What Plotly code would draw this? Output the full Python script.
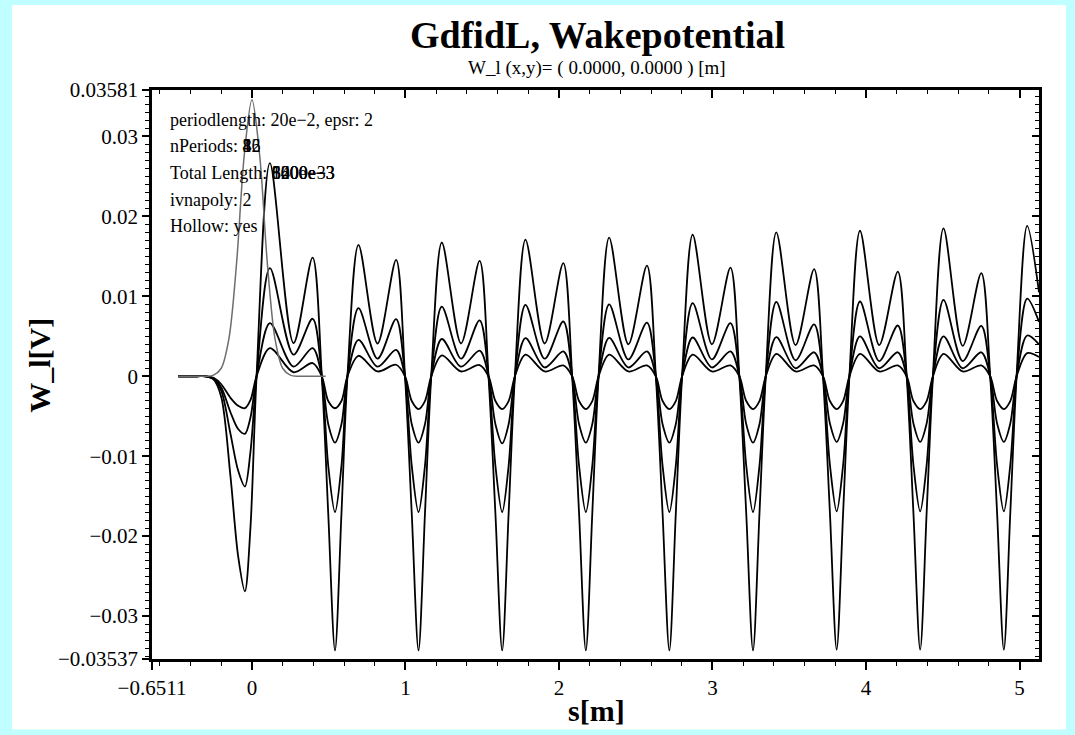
import plotly.graph_objects as go

# ---------------- data ----------------
s = [
    -0.48, -0.36, -0.30, -0.25, -0.20, -0.14, -0.09, -0.046, -0.01, 0.03, 0.117, 0.271, 0.395, 0.455,
    0.497, 0.541, 0.583, 0.622, 0.694, 0.818, 0.939, 0.997,
    1.041, 1.085, 1.127, 1.168, 1.237, 1.362, 1.483, 1.541,
    1.586, 1.630, 1.672, 1.713, 1.782, 1.907, 2.028, 2.086,
    2.131, 2.175, 2.217, 2.258, 2.327, 2.452, 2.573, 2.631,
    2.675, 2.719, 2.761, 2.802, 2.871, 2.996, 3.117, 3.175,
    3.220, 3.264, 3.306, 3.347, 3.416, 3.541, 3.662, 3.720,
    3.765, 3.809, 3.851, 3.892, 3.961, 4.086, 4.207, 4.265,
    4.309, 4.353, 4.395, 4.436, 4.505, 4.630, 4.751, 4.809,
    4.854, 4.898, 4.940, 4.981, 5.050, 5.127,
]

w_np32 = [
    0, 0, 0, -0.0004, -0.0026, -0.0125, -0.0225, -0.0269, -0.0190, 0, 0.02665, 0.00415, 0.01485, 0,
    -0.0172, -0.0343, -0.0172, 0, 0.01644, 0.0041, 0.01456, 0,
    -0.0172, -0.0343, -0.0172, 0, 0.01673, 0.0041, 0.01444, 0,
    -0.0172, -0.0343, -0.0172, 0, 0.0171, 0.0041, 0.01415, 0,
    -0.0172, -0.0343, -0.0172, 0, 0.01735, 0.0040, 0.01385, 0,
    -0.0172, -0.0343, -0.0172, 0, 0.0177, 0.0040, 0.0136, 0,
    -0.0172, -0.0343, -0.0172, 0, 0.0180, 0.0039, 0.0134, 0,
    -0.0171, -0.0342, -0.0171, 0, 0.0182, 0.0039, 0.0131, 0,
    -0.0171, -0.0342, -0.0171, 0, 0.0185, 0.0038, 0.0129, 0,
    -0.0171, -0.0342, -0.0171, 0, 0.0188, 0.0105,
]

w_np16 = [
    0, 0, 0, -0.0003, -0.0018, -0.0072, -0.0118, -0.0138, -0.0095, 0, 0.01352, 0.0027, 0.00719, 0,
    -0.0112, -0.0170, -0.0112, 0, 0.00852, 0.0022, 0.00715, 0,
    -0.0112, -0.0170, -0.0112, 0, 0.0087, 0.0022, 0.0070, 0,
    -0.0112, -0.0170, -0.0112, 0, 0.00894, 0.0022, 0.00685, 0,
    -0.0112, -0.0170, -0.0112, 0, 0.0090, 0.0021, 0.0067, 0,
    -0.0112, -0.0170, -0.0112, 0, 0.00915, 0.0021, 0.00665, 0,
    -0.0112, -0.0170, -0.0112, 0, 0.0093, 0.0020, 0.0065, 0,
    -0.0111, -0.0169, -0.0111, 0, 0.00935, 0.0019, 0.00635, 0,
    -0.0111, -0.0169, -0.0111, 0, 0.00956, 0.0019, 0.0063, 0,
    -0.0111, -0.0169, -0.0111, 0, 0.0097, 0.0068,
]

w_np8 = [
    0, 0, 0, -0.0003, -0.0014, -0.0045, -0.0066, -0.0072, -0.0052, 0, 0.00665, 0.0012, 0.00352, 0,
    -0.0060, -0.0083, -0.0060, 0, 0.00456, 0.0012, 0.0033, 0,
    -0.0060, -0.0083, -0.0060, 0, 0.00466, 0.0012, 0.0032, 0,
    -0.0060, -0.0084, -0.0060, 0, 0.00477, 0.0011, 0.0031, 0,
    -0.0060, -0.0083, -0.0060, 0, 0.0048, 0.0011, 0.0031, 0,
    -0.0060, -0.0083, -0.0060, 0, 0.00485, 0.0011, 0.0031, 0,
    -0.0060, -0.0083, -0.0060, 0, 0.0049, 0.0010, 0.0030, 0,
    -0.0059, -0.0082, -0.0059, 0, 0.0050, 0.0010, 0.0030, 0,
    -0.0059, -0.0082, -0.0059, 0, 0.0050, 0.0010, 0.0030, 0,
    -0.0059, -0.0082, -0.0059, 0, 0.0051, 0.0040,
]

w_np4 = [
    0, 0, 0, -0.0002, -0.0010, -0.0027, -0.0037, -0.0040, -0.0030, 0, 0.00352, 0.0005, 0.00165, 0,
    -0.0031, -0.0040, -0.0031, 0, 0.00256, 0.0006, 0.00144, 0,
    -0.0031, -0.0041, -0.0031, 0, 0.0026, 0.0006, 0.0014, 0,
    -0.0031, -0.0041, -0.0031, 0, 0.0027, 0.0006, 0.00135, 0,
    -0.0031, -0.0041, -0.0031, 0, 0.0027, 0.0006, 0.00135, 0,
    -0.0031, -0.0041, -0.0031, 0, 0.0027, 0.0006, 0.00135, 0,
    -0.0031, -0.0041, -0.0031, 0, 0.0028, 0.0006, 0.00135, 0,
    -0.0031, -0.0041, -0.0031, 0, 0.0028, 0.0006, 0.00135, 0,
    -0.0031, -0.0041, -0.0031, 0, 0.0028, 0.0006, 0.00135, 0,
    -0.0031, -0.0041, -0.0031, 0, 0.0029, 0.0024,
]

bunch_s = [-0.48, -0.36, -0.30, -0.25, -0.20, -0.15, -0.10, -0.05, 0.0,
           0.05, 0.10, 0.15, 0.20, 0.25, 0.30, 0.36, 0.48]
bunch_w = [0, 0, 0, 0.00015, 0.0010, 0.0047, 0.0142, 0.0277, 0.0346,
           0.0277, 0.0142, 0.0047, 0.0010, 0.00015, 0, 0, 0]

x_range = [-0.6511, 5.127]
y_range = [-0.03537, 0.03581]
x_tickvals = [-0.6511, 0, 1, 2, 3, 4, 5]
x_ticktext = ["\u22120.6511", "0", "1", "2", "3", "4", "5"]
y_tickvals = [-0.03537, -0.03, -0.02, -0.01, 0, 0.01, 0.02, 0.03, 0.03581]
y_ticktext = ["\u22120.03537", "\u22120.03", "\u22120.02", "\u22120.01", "0",
              "0.01", "0.02", "0.03", "0.03581"]

# each info line: a prefix and the (overprinted) values of the four runs
info_lines = [
    ("periodlength: 20e\u22122, epsr: 2", [""]),
    ("nPeriods: ", ["4", "8", "16", "32"]),
    ("Total Length: ", ["800e\u22123", "1600e\u22123", "3200e\u22123", "6400e\u22123"]),
    ("ivnapoly: 2", [""]),
    ("Hollow: yes", [""]),
]

# ---------------- figure ----------------
W, H = 1075, 735
L, R, T, B = 152, 1039, 90, 659.5
FONT = "Liberation Serif, Times New Roman, serif"
CYAN = "#c0ffff"


def px_x(px):
    return (px - L) / (R - L)


def px_y(py):
    return (B - py) / (B - T)


fig = go.Figure()
for vals in [w_np4, w_np8, w_np16, w_np32]:
    fig.add_trace(go.Scatter(
        x=s, y=vals, mode="lines",
        line=dict(color="black", width=1.8, shape="spline", smoothing=0.9),
        showlegend=False, hoverinfo="skip"))
fig.add_trace(go.Scatter(
    x=bunch_s, y=bunch_w, mode="lines",
    line=dict(color="#6e6e6e", width=1.5, shape="spline", smoothing=0.9),
    showlegend=False, hoverinfo="skip"))
# dummy trace for the mirrored (inside-tick) axes
fig.add_trace(go.Scatter(x=[None], y=[None], xaxis="x2", yaxis="y2",
                         showlegend=False, hoverinfo="skip"))

tickfont = dict(family=FONT, size=21, color="black")

fig.update_layout(
    width=W, height=H,
    margin=dict(l=L, r=W - R, t=T, b=H - B, pad=0),
    paper_bgcolor=CYAN,
    plot_bgcolor="white",
    showlegend=False,
    xaxis=dict(
        range=x_range, tickmode="array", tickvals=x_tickvals, ticktext=x_ticktext,
        ticks="outside", ticklen=8, tickwidth=1.5, tickcolor="black",
        showline=True, linewidth=2.5, linecolor="black", mirror=True,
        showgrid=False, zeroline=False, tickfont=tickfont,
        minor=dict(tickmode="linear", tick0=0, dtick=0.2, ticks="outside",
                   ticklen=4, tickwidth=1, tickcolor="black", showgrid=False),
    ),
    yaxis=dict(
        range=y_range, tickmode="array", tickvals=y_tickvals, ticktext=y_ticktext,
        ticks="outside", ticklen=7, tickwidth=1.5, tickcolor="black",
        showline=True, linewidth=2.5, linecolor="black", mirror=True,
        showgrid=False, zeroline=False, tickfont=tickfont,
        minor=dict(tickmode="linear", tick0=0, dtick=0.001, ticks="outside",
                   ticklen=4, tickwidth=1, tickcolor="black", showgrid=False),
    ),
    xaxis2=dict(
        overlaying="x", side="top", anchor="y", range=x_range,
        tickmode="array", tickvals=[0, 1, 2, 3, 4, 5], showticklabels=False,
        ticks="inside", ticklen=8, tickwidth=1.5, tickcolor="black",
        showline=False, showgrid=False, zeroline=False,
        minor=dict(tickmode="linear", tick0=0, dtick=0.2, ticks="inside",
                   ticklen=4, tickwidth=1, tickcolor="black", showgrid=False),
    ),
    yaxis2=dict(
        overlaying="y", side="right", anchor="x", range=y_range,
        tickmode="array", tickvals=[-0.03, -0.02, -0.01, 0, 0.01, 0.02, 0.03],
        showticklabels=False,
        ticks="inside", ticklen=7, tickwidth=1.5, tickcolor="black",
        showline=False, showgrid=False, zeroline=False,
        minor=dict(tickmode="linear", tick0=0, dtick=0.001, ticks="inside",
                   ticklen=4, tickwidth=1, tickcolor="black", showgrid=False),
    ),
)

# white panel on the cyan page
fig.add_shape(type="rect", xref="paper", yref="paper", layer="below",
              x0=px_x(12), x1=px_x(1066), y0=px_y(730), y1=px_y(5),
              fillcolor="white", line=dict(width=0))

ann = []
ann.append(dict(text="<b>GdfidL, Wakepotential</b>", x=px_x(597), y=px_y(35),
                font=dict(family=FONT, size=38, color="black")))
ann.append(dict(text="W_l (x,y)= ( 0.0000, 0.0000 ) [m]", x=px_x(597), y=px_y(68),
                font=dict(family=FONT, size=19, color="black")))
ann.append(dict(text="<b>s[m]</b>", x=px_x(596), y=px_y(711),
                font=dict(family=FONT, size=30, color="black")))
ann.append(dict(text="<b>W_l[V]</b>", x=px_x(40), y=px_y(366), textangle=-90,
                font=dict(family=FONT, size=30, color="black")))
line_y = [120, 146.5, 173, 200, 226.5]
for ypix, (prefix, values) in zip(line_y, info_lines):
    for k, v in enumerate(values):
        if k == 0:
            txt = prefix + v
        else:
            txt = "<span style='color:rgba(0,0,0,0)'>" + prefix + "</span>" + v
        ann.append(dict(text=txt, x=px_x(168), y=px_y(ypix), xanchor="left",
                        font=dict(family=FONT, size=18, color="black")))
for a in ann:
    a.setdefault("xanchor", "center")
    a.update(xref="paper", yref="paper", yanchor="middle", showarrow=False)
fig.update_layout(annotations=ann)

fig.write_html(
    "out.html",
    config={"displayModeBar": False},
    post_script="document.body.style.margin='0';document.body.style.background='%s';" % CYAN,
)
